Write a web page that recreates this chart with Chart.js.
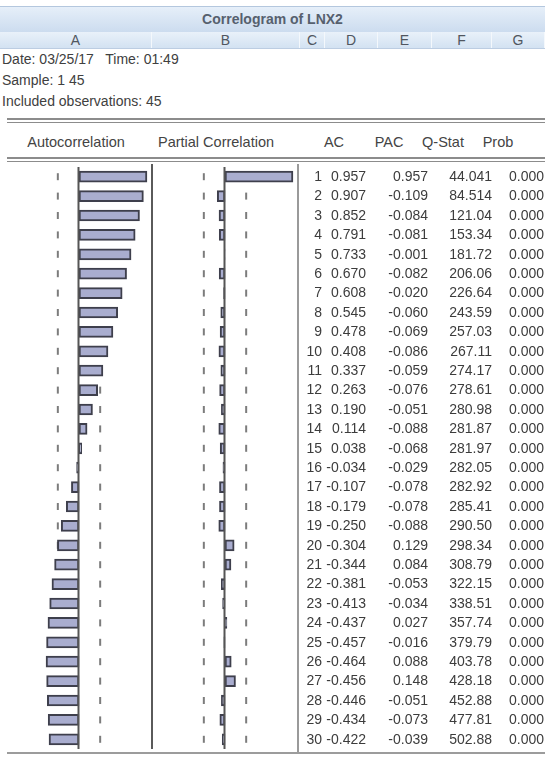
<!DOCTYPE html>
<html>
<head>
<meta charset="utf-8">
<title>Correlogram of LNX2</title>
<script src="https://cdn.jsdelivr.net/npm/chart.js@4.4.0/dist/chart.umd.min.js"></script>
<style>
  html, body { margin: 0; padding: 0; background: #fff; }
  body { width: 545px; height: 758px; position: relative; overflow: hidden;
         font-family: "Liberation Sans", Arial, sans-serif; color: #3a3a3a; }
  .abs { position: absolute; }
  #titlebar { left: 0; top: 6px; width: 545px; height: 25px;
              background: linear-gradient(#e6eff9, #ccdcef);
              border-top: 1px solid #b4c7de; border-bottom: 1px solid #aabfd8;
              text-align: center; line-height: 25px; font-size: 14px; font-weight: bold; color: #56606e; }
  #colbar { left: 0; top: 32px; width: 545px; height: 16px;
            background: linear-gradient(#e9f1fa, #d3e2f2); border-bottom: 1px solid #bccde2; }
  .col { position: absolute; top: 0; height: 16px; line-height: 16px; text-align: center;
         font-size: 14px; color: #505660; border-right: 1px solid #f4f8fc; box-sizing: border-box; }
  .info { left: 2px; font-size: 14px; color: #404040; white-space: pre; }
  .hline { left: 7px; width: 538px; background: #8c8c8c; }
  .hdr { font-size: 14.5px; color: #444; transform: translate(-50%, -50%); white-space: nowrap; }
  .vline { width: 2px; }
  canvas { position: absolute; }
</style>
</head>
<body>
<div id="titlebar" class="abs">Correlogram of LNX2</div>
<div id="colbar" class="abs"></div>

<div class="abs info" style="top:51px">Date: 03/25/17   Time: 01:49</div>
<div class="abs info" style="top:72px">Sample: 1 45</div>
<div class="abs info" style="top:93px">Included observations: 45</div>

<div class="abs hline" style="top:118px;height:2px"></div>
<div class="abs hline" style="top:122px;height:1px"></div>
<div class="abs hdr" style="left:76px;top:142px">Autocorrelation</div>
<div class="abs hdr" style="left:216px;top:142px">Partial Correlation</div>
<div class="abs hdr" style="left:334px;top:142px">AC</div>
<div class="abs hdr" style="left:389px;top:142px">PAC</div>
<div class="abs hdr" style="left:443px;top:142px">Q-Stat</div>
<div class="abs hdr" style="left:498px;top:142px">Prob</div>
<div class="abs hline" style="top:157px;height:2px"></div>
<div class="abs hline" style="top:161px;height:1px"></div>

<div class="abs vline" style="left:151px;top:164px;height:585px;background:#5a5a5a"></div>
<div class="abs vline" style="left:297px;top:164px;height:588px;background:#9a9a9a"></div>
<div class="abs hline" style="top:752px;height:2px;background:#9c9c9c"></div>

<canvas id="acChart" style="left:6px;top:167px"></canvas>
<canvas id="pacChart" style="left:152px;top:167px"></canvas>

<script>
// Correlogram of LNX2, 30 lags
const lags = [1, 2, 3, 4, 5, 6, 7, 8, 9, 10, 11, 12, 13, 14, 15,
              16, 17, 18, 19, 20, 21, 22, 23, 24, 25, 26, 27, 28, 29, 30];
const acValues = [0.957, 0.907, 0.852, 0.791, 0.733, 0.670, 0.608, 0.545, 0.478, 0.408,
                  0.337, 0.263, 0.190, 0.114, 0.038, -0.034, -0.107, -0.179, -0.250, -0.304,
                  -0.344, -0.381, -0.413, -0.437, -0.457, -0.464, -0.456, -0.446, -0.434, -0.422];
const pacValues = [0.957, -0.109, -0.084, -0.081, -0.001, -0.082, -0.020, -0.060, -0.069, -0.086,
                   -0.059, -0.076, -0.051, -0.088, -0.068, -0.029, -0.078, -0.078, -0.088, 0.129,
                   0.084, -0.053, -0.034, 0.027, -0.016, 0.088, 0.148, -0.051, -0.073, -0.039];
const qStats = [44.041, 84.514, 121.04, 153.34, 181.72, 206.06, 226.64, 243.59, 257.03, 267.11,
                274.17, 278.61, 280.98, 281.87, 281.97, 282.05, 282.92, 285.41, 290.50, 298.34,
                308.79, 322.15, 338.51, 357.74, 379.79, 403.78, 428.18, 452.88, 477.81, 502.88];
const probValues = [0.000, 0.000, 0.000, 0.000, 0.000, 0.000, 0.000, 0.000, 0.000, 0.000,
                    0.000, 0.000, 0.000, 0.000, 0.000, 0.000, 0.000, 0.000, 0.000, 0.000,
                    0.000, 0.000, 0.000, 0.000, 0.000, 0.000, 0.000, 0.000, 0.000, 0.000];
const observations = 45;

// approximate 2 standard error bounds
const bound = 2 / Math.sqrt(observations);

const BAR_FILL = '#a9adcf';
const BAR_EDGE = '#3e3f4c';
const MARK = '#7c7c7c';
const X_RANGE = 1.028;
const ROW_H = 582;

// vertical zero axis through each panel
const zeroLine = {
  id: 'zeroLine',
  afterDatasetsDraw(chart) {
    const { ctx, chartArea, scales } = chart;
    const x = Math.round(scales.x.getPixelForValue(0)) - 0.5;
    ctx.save();
    ctx.strokeStyle = '#555';
    ctx.lineWidth = 2;
    ctx.beginPath();
    ctx.moveTo(x, chartArea.top);
    ctx.lineTo(x, chartArea.bottom);
    ctx.stroke();
    ctx.restore();
  }
};

// numeric columns (lag, AC, PAC, Q-Stat, Prob) beside the partial correlation panel
const statTable = {
  id: 'statTable',
  afterDraw(chart) {
    const { ctx, chartArea, scales } = chart;
    const r = chartArea.right;
    const cols = [
      { dx: 24,  text: i => String(lags[i]) },
      { dx: 68,  text: i => acValues[i].toFixed(3) },
      { dx: 130, text: i => pacValues[i].toFixed(3) },
      { dx: 194, text: i => qStats[i].toPrecision(5) },
      { dx: 246, text: i => probValues[i].toFixed(3) }
    ];
    ctx.save();
    ctx.font = '14px "Liberation Sans", Arial, sans-serif';
    ctx.fillStyle = '#3c3c3c';
    ctx.textAlign = 'right';
    ctx.textBaseline = 'middle';
    lags.forEach((lag, i) => {
      const y = scales.y.getPixelForValue(i) + 0.5;
      cols.forEach(c => ctx.fillText(c.text(i), r + c.dx, y));
    });
    ctx.restore();
  }
};

function panel(canvasId, values, padRight, plugins) {
  const el = document.getElementById(canvasId);
  el.width = 146 + padRight;
  el.height = ROW_H;
  el.style.width = el.width + 'px';
  el.style.height = ROW_H + 'px';
  return new Chart(el, {
    type: 'bar',
    data: {
      labels: lags,
      datasets: [
        {
          type: 'bar',
          data: values,
          backgroundColor: BAR_FILL,
          borderColor: BAR_EDGE,
          borderWidth: 2,
          borderSkipped: false,
          barThickness: 11,
          order: 0
        },
        {
          type: 'line',
          data: lags.map(l => ({ x: -bound, y: l })),
          showLine: false,
          pointStyle: 'line',
          rotation: 90,
          radius: 3.5,
          borderColor: MARK,
          borderWidth: 2,
          order: 1
        },
        {
          type: 'line',
          data: lags.map(l => ({ x: bound, y: l })),
          showLine: false,
          pointStyle: 'line',
          rotation: 90,
          radius: 3.5,
          borderColor: MARK,
          borderWidth: 2,
          order: 1
        }
      ]
    },
    options: {
      indexAxis: 'y',
      responsive: false,
      animation: false,
      devicePixelRatio: 1,
      layout: { autoPadding: false, padding: { left: 0, right: padRight, top: 0, bottom: 0 } },
      plugins: { legend: { display: false }, tooltip: { enabled: false } },
      scales: {
        x: { type: 'linear', min: -X_RANGE, max: X_RANGE, display: false },
        y: { type: 'category', offset: true, display: false }
      }
    },
    plugins: plugins
  });
}

panel('acChart', acValues, 0, [zeroLine]);
panel('pacChart', pacValues, 247, [zeroLine, statTable]);

// column letters of the spreadsheet-style header
const colLetters = ['A', 'B', 'C', 'D', 'E', 'F', 'G'];
const colEdges = [0, 152, 300, 325, 378, 432, 492, 545];
const bar = document.getElementById('colbar');
colLetters.forEach((c, i) => {
  const d = document.createElement('div');
  d.className = 'col';
  d.style.left = colEdges[i] + 'px';
  d.style.width = (colEdges[i + 1] - colEdges[i]) + 'px';
  d.textContent = c;
  bar.appendChild(d);
});
</script>
</body>
</html>
